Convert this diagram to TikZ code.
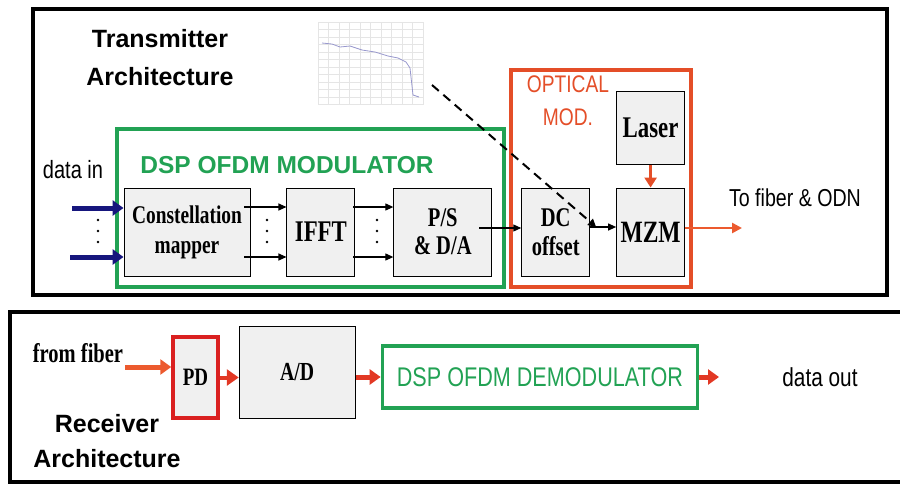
\documentclass[tikz,border=0pt]{standalone}
\usepackage{fontspec}
\setmainfont{Liberation Serif}
\setsansfont{Liberation Sans}
\newfontfamily\condsans[FakeStretch=0.8]{Liberation Sans}
\newfontfamily\condserif[FakeStretch=0.76]{Liberation Serif}
\usepackage{tikz}
\usetikzlibrary{positioning, shapes, arrows.meta, calc}

\definecolor{dspgreen}{RGB}{34,162,84}
\definecolor{optred}{RGB}{228,78,40}
\definecolor{pdred}{RGB}{218,32,32}
\definecolor{sigred}{RGB}{226,56,36}
\definecolor{datanavy}{RGB}{22,22,125}
\definecolor{boxgray}{RGB}{240,240,240}
\definecolor{fiberorange}{RGB}{236,90,46}
\newcommand{\fsz}[2]{\fontsize{#1}{#2}\selectfont}

\begin{document}
\begin{tikzpicture}[
    x=1pt, y=-1pt,
    box/.style={rectangle, draw, fill=boxgray, line width=0.9pt, minimum height=88pt, inner sep=1pt, align=center},
    frame/.style={rectangle, draw, line width=#1, inner sep=0pt},
    frame/.default=4pt,
    arrow/.style={-{Triangle[length=8pt,width=7pt]}, line width=1.1pt},
    fat/.style={-{Triangle[length=11pt,width=15pt]}, line width=5pt}
]
    \useasboundingbox (0,0) rectangle (900,485);

    % outer frames
    \node[frame=4.5pt, minimum width=854pt, minimum height=286pt] (tx) at (460,152) {};
    \node[frame=4.5pt, minimum width=895pt, minimum height=170pt] (rx) at (457.5,397) {};
    \node[frame=3.5pt, draw=dspgreen, minimum width=387pt, minimum height=158pt] (mod) at (310.5,208) {};
    \node[frame=4pt, draw=optred, minimum width=180pt, minimum height=217pt] (opt) at (601,178.5) {};

    % transmitter
    \node[font=\sffamily\bfseries\fsz{25}{38}, align=center] (txtitle) at (160,58) {Transmitter\\Architecture};
    \node[font=\sffamily\bfseries\fsz{24.5}{28}, text=dspgreen] (modtitle) at (287,165) {DSP OFDM MODULATOR};
    \node[font=\condsans\fsz{24}{33}, text=optred, align=center] (opttitle) at (568,101) {OPTICAL\\MOD.};
    \node[font=\condsans\fsz{25}{30}] (datain) at (73,170) {data in};
    \node[font=\condsans\fsz{24.5}{30}] (tofiber) at (795,198) {To fiber \& ODN};

    \node[box, minimum width=126pt, font=\condserif\bfseries\fsz{25.5}{30}] (cm) at (187,232) {Constellation\\mapper};
    \node[box, minimum width=68pt, right=36pt of cm, font=\condserif\bfseries\fsz{30}{32}] (ifft) {IFFT};
    \node[box, minimum width=98pt, right=38pt of ifft, font=\condserif\bfseries\fsz{27}{28}] (ps) {P/S\\\& D/A};
    \node[box, minimum width=68pt, right=29pt of ps, font=\condserif\bfseries\fsz{27}{29}] (dc) {DC\\offset};
    \node[box, minimum width=68pt, right=26pt of dc, font=\condserif\bfseries\fsz{31}{32}] (mzm) {MZM};
    \node[box, minimum width=68pt, minimum height=73pt, above=23pt of mzm, font=\condserif\bfseries\fsz{30}{32}] (laser) {Laser};

    % spectrum plot
    \foreach \i in {0,...,10}
        \draw[gray!20, line width=0.4pt] (318+\i*10.5,22) -- (318+\i*10.5,105);
    \foreach \j in {0,...,11}
        \draw[gray!20, line width=0.4pt] (318,22+\j*7.5) -- (423,22+\j*7.5);
    \draw[blue!35!gray!60, line width=0.8pt] (322,43) -- (332,44) -- (340,47) -- (350,46) -- (362,50) -- (375,52)
        -- (388,56) -- (398,58) -- (406,62) -- (410,68) -- (413,95) -- (419,97);
    \coordinate (chartend) at (432,85);

    \coordinate (in1) at (72,208);
    \coordinate (in2) at (70,257);
    \draw[fat, datanavy] (in1) -- (in1 -| cm.west);
    \draw[fat, datanavy] (in2) -- (in2 -| cm.west);
    \foreach \x in {98,267,377}
        \foreach \y in {220,231,242}
            \fill (\x,\y) circle (1.4pt);

    \foreach \dy in {25pt,-25pt} {
        \draw[arrow] ([shift={(-6pt,\dy)}]cm.east) -- ([yshift=\dy]ifft.west);
        \draw[arrow] ([shift={(-2pt,\dy)}]ifft.east) -- ([yshift=\dy]ps.west);
    }
    \draw[arrow] ([shift={(-13pt,4pt)}]ps.east) -- ([yshift=4pt]dc.west);
    \draw[arrow] ([yshift=5pt]dc.east) -- ([yshift=5pt]mzm.west);
    \draw[-{Triangle[length=8pt,width=8pt]}, line width=2pt, dash pattern=on 9pt off 6pt] (chartend) -- ([shift={(-20pt,5pt)}]mzm.west);
    \draw[-{Triangle[length=10pt,width=12pt]}, optred, line width=3pt] (laser) -- (mzm);
    \coordinate (fibout) at (742,228);
    \draw[-{Triangle[length=10pt,width=10pt]}, fiberorange, line width=2.5pt] ([yshift=4pt]mzm.east) -- (fibout);

    % receiver
    \node[font=\condserif\bfseries\fsz{27}{28}] (fromfiber) at (78,353) {from fiber};
    \node[font=\sffamily\bfseries\fsz{25}{35}, align=center] (rxtitle) at (107,441) {Receiver\\Architecture};
    \node[box, draw=pdred, line width=3.5pt, minimum width=45pt, minimum height=81pt, font=\condserif\bfseries\fsz{25}{28}] (pd) at (195.5,377.5) {PD};
    \node[box, minimum width=116pt, minimum height=92pt, right=19pt of pd, yshift=5.5pt, font=\condserif\bfseries\fsz{26}{28}] (ad) {A/D};
    \node[frame=3.5pt, draw=dspgreen, minimum width=315pt, minimum height=62pt, right=25pt of ad, yshift=-5pt, text=dspgreen, font=\condsans\fsz{27}{30}] (demod) {DSP OFDM DEMODULATOR};
    \node[font=\condsans\fsz{26}{30}] (dataout) at (820,377) {data out};

    \coordinate (fromf) at (125,367);
    \coordinate (dout) at (719,377);
    \draw[fat, fiberorange] (fromf) -- (fromf -| pd.west);
    \draw[-{Triangle[length=12pt,width=16pt]}, sigred, line width=4pt] (pd.east) -- (pd.east -| ad.west);
    \draw[-{Triangle[length=11pt,width=15pt]}, sigred, line width=5pt] (demod.west -| ad.east) -- (demod.west);
    \draw[-{Triangle[length=11pt,width=15pt]}, sigred, line width=5pt] (demod.east) -- (dout);
\end{tikzpicture}
\end{document}
